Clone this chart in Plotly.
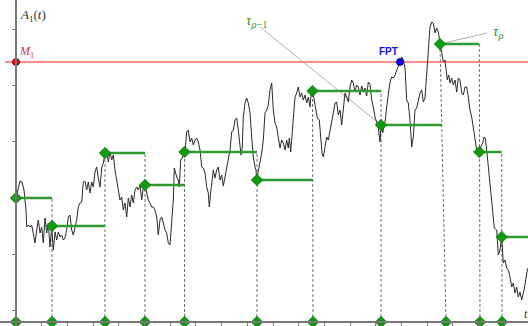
import numpy as np
import plotly.graph_objects as go

# ---- data (x = horizontal reading, y = vertical reading, origin at (16, 322)) ----
ORIGIN_X, ORIGIN_Y = 16, 322

path_x = [16, 18, 20, 22, 24, 26, 26.7, 28.3, 30, 31.7, 33.3, 35, 36.7, 38.3, 40, 41.7, 43.3, 45, 46.7, 48.3,
          50, 51.7, 53.3, 55, 56.7, 58.3, 60, 61.7, 63.3, 65, 66.7, 68.3, 70, 71.7, 73.3, 75, 76.7, 78.3, 80, 81.7,
          83.3, 85, 86.7, 88.3, 90, 91.7, 93.3, 95, 96.7, 98.3, 100, 101.7, 103.3, 105, 106.7, 108.3, 110, 111.7,
          113.3, 115, 116.7, 118.3, 120, 121.7, 123.3, 125, 126.7, 128.3, 130, 131.7, 133.3, 135, 136.7, 138.3,
          140, 141.7, 143.3, 145, 146.7, 148.3, 150, 151.7, 153.3, 155, 156.7, 158.3, 160, 161.7, 163.3, 165,
          166.7, 168.3, 170, 171.7, 173.3, 174.3, 176.7, 178.3, 179.3, 180.7, 182.7, 185, 186.7, 188.3, 190,
          191.7, 193.3, 195, 196.7, 198.3, 200, 201.7, 203.3, 205, 206.7, 208.3, 209.3, 210.7, 212.3, 213.3,
          215, 216.7, 218.3, 220, 221.7, 223.3, 225, 226.7, 228.3, 230, 231.7, 233.3, 235, 236.7, 238.3, 240,
          241, 242.3, 243.3, 245, 246.7, 248.3, 250, 251.7, 253.3, 255, 256, 256.7, 258.3, 260, 261.7, 263.3,
          265, 266.7, 268.3, 270, 271.7, 273.3, 275, 276.7, 278.3, 280, 281.7, 283.3, 285, 286.7, 288.3, 289.3,
          290.7, 291.7, 293.3, 295, 296.7, 298.3, 300, 301.7, 303.3, 305, 306.7, 308.3, 310, 311.7, 312.7,
          314.3, 316, 317.3, 319.3, 320.7, 322, 323.3, 325, 326.7, 328.3, 330, 331.7, 333.3, 335, 336.7, 338.3,
          340, 341.7, 343.3, 345, 346.7, 348.3, 350, 351.7, 353.3, 355, 356.7, 358.3, 360, 361.7, 363.3, 365,
          366.7, 368.3, 370, 371.7, 373.3, 375, 376.7, 378.3, 380, 381, 382.7, 384, 385.3, 386.7, 388.3, 390,
          391.7, 393.3, 395, 396.7, 398.3, 400, 401.7, 403.3, 405, 406.7, 408.3, 410, 411.7, 413.3, 415, 416.7,
          418.3, 420, 421.7, 423.3, 425, 426.7, 428.3, 430, 431.7, 433.3, 435, 436.7, 438.3, 440, 441.7, 443.3,
          445, 446, 447.3, 448.7, 450, 451.7, 453.3, 455, 456.7, 458.3, 460, 461.7, 463.3, 465, 466.7, 468.3,
          470, 471.7, 473.3, 475, 476.7, 478.3, 479.3, 480.7, 482.7, 484, 485.3, 486.7, 488.3, 490, 491.7,
          493.3, 494.3, 496.7, 498.3, 500, 501.7, 503.3, 505, 506.7, 508.3, 510, 511.7, 513.3, 515, 516.7,
          518.3, 520, 521.7, 523.3, 525, 526.7, 528]
path_y = [198, 190, 181, 182, 190, 210, 227, 225, 227, 225, 235, 243, 230, 220, 233, 227, 243, 218, 233, 223,
          247, 227, 250, 232, 240, 232, 237, 235, 240, 238, 230, 217, 215, 230, 235, 227, 220, 207, 203, 202,
          182, 181, 190, 182, 193, 182, 187, 172, 167, 178, 187, 168, 163, 153, 152, 162, 152, 160,
          155, 170, 182, 188, 200, 197, 210, 203, 217, 198, 207, 195, 203, 190, 187, 190,
          185, 200, 187, 185, 193, 200, 203, 207, 207, 210, 217, 235, 220, 217, 223, 230,
          233, 243, 245, 223, 200, 168, 177, 180, 187, 160, 157, 152, 132, 130, 142,
          138, 145, 140, 138, 142, 150, 167, 168, 173, 187, 193, 207, 192, 180, 170,
          178, 170, 167, 180, 175, 186, 177, 167, 160, 150, 132, 130, 120, 118, 130, 147,
          155, 147, 117, 103, 98, 103, 113, 137, 157, 167, 170, 180, 172, 163, 153, 140,
          113, 110, 105, 90, 83, 110, 123, 127, 137, 148, 140, 143, 150, 140, 148, 138,
          152, 137, 120, 97, 93, 87, 97, 93, 100, 95, 103, 97, 107, 87, 91,
          100, 110, 118, 120, 137, 153, 157, 147, 137, 140, 132, 122, 113, 103, 102, 115,
          110, 125, 107, 93, 97, 102, 87, 80, 83, 92, 85, 87, 95, 86, 92, 88,
          96, 82, 84, 100, 107, 117, 122, 128, 142, 125, 133, 127, 120, 107, 93, 82,
          77, 78, 75, 70, 67, 62, 57, 60, 68, 100, 103, 120, 147, 137, 110, 108,
          100, 93, 90, 102, 98, 70, 43, 27, 22, 23, 33, 28, 32, 43, 53, 62,
          60, 68, 80, 75, 83, 78, 85, 80, 92, 78, 80, 93, 95, 87, 87, 97,
          110, 117, 127, 137, 150, 153, 152, 147, 143, 137, 138, 150, 167, 183, 203,
          217, 228, 230, 255, 250, 237, 263, 260, 268, 270, 277, 287, 283, 293, 287,
          297, 292, 300, 293, 285, 273, 268]

# stopping times: position on the time axis, position on the path, level of the path there
event_axis_x = [16, 52, 105, 145, 184.5, 257, 313, 381, 446, 480, 502]
event_path_x = [16, 52, 105, 145, 184.5, 257, 312.5, 381, 440, 479.3, 501.7]
event_y = [198, 226, 153, 185, 152, 180, 91, 125, 44, 152, 237]

level_M1_y = 62
fpt_x, fpt_y = 400, 62

tick_x = [16 + 25.7 * k for k in range(1, 20)]
tick_y = [29, 85, 141, 197, 254, 310]

# ---- convert readings to chart units ----
def T(v):
    return np.asarray(v, dtype=float) - ORIGIN_X

def A(v):
    return ORIGIN_Y - np.asarray(v, dtype=float)

X_END = 528
GREEN_M = "#0f9a0f"
GREEN_L = "#2f9a2f"

fig = go.Figure()

# red level line M1
fig.add_trace(go.Scatter(x=T([5, X_END]), y=A([level_M1_y, level_M1_y]), mode="lines",
                         line=dict(color="#ff1a1a", width=1.2), hoverinfo="skip"))

# gray callout lines
fig.add_trace(go.Scatter(x=T([260, event_path_x[7]]), y=A([27, event_y[7]]), mode="lines",
                         line=dict(color="#9a9a9a", width=0.8), hoverinfo="skip"))
fig.add_trace(go.Scatter(x=T([487, event_path_x[8]]), y=A([33, event_y[8]]), mode="lines",
                         line=dict(color="#9a9a9a", width=0.8), hoverinfo="skip"))

# segment ends: where the next dashed line crosses this level
n = len(event_y)
seg_end = []
for i in range(n):
    if i + 1 < n:
        xa, xp, yp = event_axis_x[i + 1], event_path_x[i + 1], event_y[i + 1]
        frac = (ORIGIN_Y - event_y[i]) / (ORIGIN_Y - yp) if event_y[i] > yp else 1.0
        seg_end.append(xa + (xp - xa) * frac)
    else:
        seg_end.append(X_END)

# dashed verticals
for i in range(n):
    top_y = event_y[i] if i == 0 else min(event_y[i], event_y[i - 1])
    fig.add_trace(go.Scatter(x=T([event_axis_x[i], event_path_x[i]]), y=A([ORIGIN_Y, top_y]), mode="lines",
                             line=dict(color="#6e6e6e", width=1, dash="3px,2px"), hoverinfo="skip"))

# Brownian path
fig.add_trace(go.Scatter(x=T(path_x), y=A(path_y), mode="lines",
                         line=dict(color="#2a2a2a", width=1), hoverinfo="skip"))

# green horizontal segments
for i in range(n):
    fig.add_trace(go.Scatter(x=T([event_path_x[i], seg_end[i]]), y=A([event_y[i], event_y[i]]), mode="lines",
                             line=dict(color=GREEN_L, width=2.5), hoverinfo="skip"))

# green diamonds on path and on axis
fig.add_trace(go.Scatter(x=T(event_path_x), y=A(event_y), mode="markers", cliponaxis=False,
                         marker=dict(symbol="diamond", size=9, color=GREEN_M,
                                     line=dict(color="#0a6e0a", width=0.6)), hoverinfo="skip"))
fig.add_trace(go.Scatter(x=T(event_axis_x), y=A([ORIGIN_Y] * n), mode="markers", cliponaxis=False,
                         marker=dict(symbol="diamond", size=9, color=GREEN_M,
                                     line=dict(color="#0a6e0a", width=0.6)), hoverinfo="skip"))

# M1 and FPT points
fig.add_trace(go.Scatter(x=T([ORIGIN_X]), y=A([level_M1_y]), mode="markers", cliponaxis=False,
                         marker=dict(size=7, color="#ff0000", line=dict(color="#550000", width=0.8)),
                         hoverinfo="skip"))
fig.add_trace(go.Scatter(x=T([fpt_x]), y=A([fpt_y]), mode="markers", cliponaxis=False,
                         marker=dict(size=7, color="#0000ff", line=dict(color="#000055", width=0.8)),
                         hoverinfo="skip"))

def ann(text, px, py, color, size, family="Liberation Serif, DejaVu Serif, serif", xanchor="left"):
    fig.add_annotation(x=float(T(px)), y=float(A(py)), xref="x", yref="y", text=text, showarrow=False,
                       xanchor=xanchor, yanchor="middle", font=dict(color=color, size=size, family=family))

ann("<i>A</i><sub>1</sub>(<i>t</i>)", 18, 15, "#333333", 13)
ann("<i>M</i><sub>1</sub>", 17, 52, "#d03838", 12)
ann("<b>FPT</b>", 377, 51, "#1010e0", 10, family="Liberation Sans, Arial, sans-serif")
ann("<i>τ</i><sub><i>ρ</i>−1</sub>", 244, 21, "#2f8f2f", 15)
ann("<i>τ</i><sub><i>ρ</i></sub>", 491, 32, "#2f8f2f", 15)
ann("<i>t</i>", 522, 314, "#333333", 12)

fig.update_layout(
    width=528, height=326, margin=dict(l=0, r=0, t=0, b=0),
    paper_bgcolor="white", plot_bgcolor="white", showlegend=False,
    xaxis=dict(range=[float(T(0)), float(T(528))], showgrid=False, zeroline=False,
               showline=True, linecolor="#777777", linewidth=1.5,
               anchor="free", position=(326 - ORIGIN_Y) / 326,
               ticks="outside", ticklen=3, tickcolor="#777777",
               tickvals=list(T(tick_x)), showticklabels=False),
    yaxis=dict(range=[float(A(326)), float(A(0))], showgrid=False, zeroline=False,
               showline=True, linecolor="#777777", linewidth=1.5,
               anchor="free", position=ORIGIN_X / 528,
               ticks="outside", ticklen=3, tickcolor="#777777",
               tickvals=list(A(tick_y)), showticklabels=False),
)

fig.write_html("out.html")
